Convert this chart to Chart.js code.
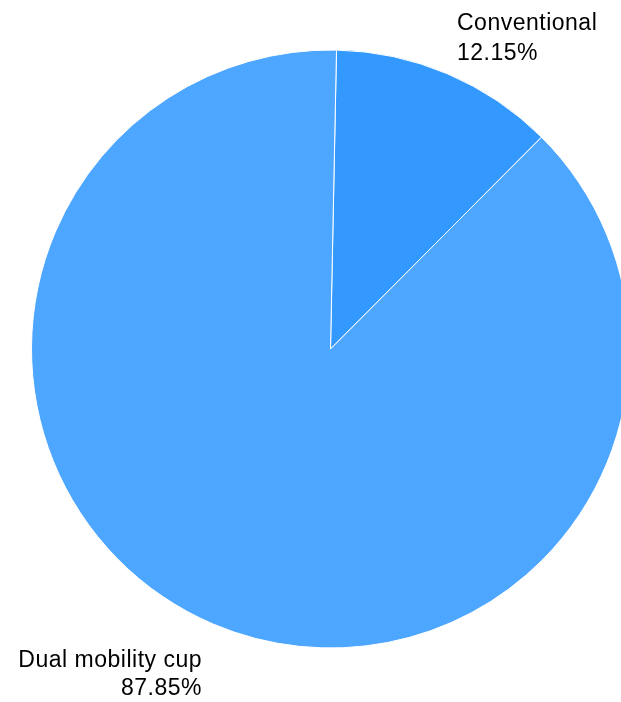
<!DOCTYPE html>
<html>
<head>
<meta charset="utf-8">
<script src="https://cdn.jsdelivr.net/npm/chart.js@4"></script>
<style>
  html, body { margin: 0; padding: 0; background: #fff; overflow: hidden; }
  #wrap { width: 621px; height: 702px; }
</style>
</head>
<body>
<div id="wrap"><canvas id="pieChart" width="621" height="702"></canvas></div>
<script>
const categories = ["Conventional", "Dual mobility cup"];
const shares = [12.15, 87.85];
const sliceColors = ["#3399ff", "#4da6ff"];

// etiquetas fora da tarta, desenhadas depois do gráfico
const outsideLabels = {
  id: "outsideLabels",
  afterDraw(chart) {
    const ctx = chart.ctx;
    ctx.save();
    ctx.fillStyle = "#000";
    ctx.font = "23px 'Liberation Sans', Arial, sans-serif";
    ctx.letterSpacing = "0.5px";
    ctx.textBaseline = "alphabetic";

    ctx.textAlign = "left";
    ctx.fillText(categories[0], 457, 30);
    ctx.fillText(shares[0].toFixed(2) + "%", 457, 60);

    ctx.textAlign = "right";
    ctx.fillText(categories[1], 202, 667);
    ctx.fillText(shares[1].toFixed(2) + "%", 202, 695);
    ctx.restore();
  }
};

new Chart(document.getElementById("pieChart"), {
  type: "pie",
  data: {
    labels: categories,
    datasets: [{
      data: shares,
      backgroundColor: sliceColors,
      borderColor: "#ffffff",
      borderWidth: 1,
      radius: 299
    }]
  },
  options: {
    responsive: false,
    animation: false,
    rotation: 1.15,
    layout: { padding: { left: 40, right: 0, top: 0, bottom: 4 } },
    plugins: {
      legend: { display: false },
      tooltip: { enabled: false }
    }
  },
  plugins: [outsideLabels]
});
</script>
</body>
</html>
